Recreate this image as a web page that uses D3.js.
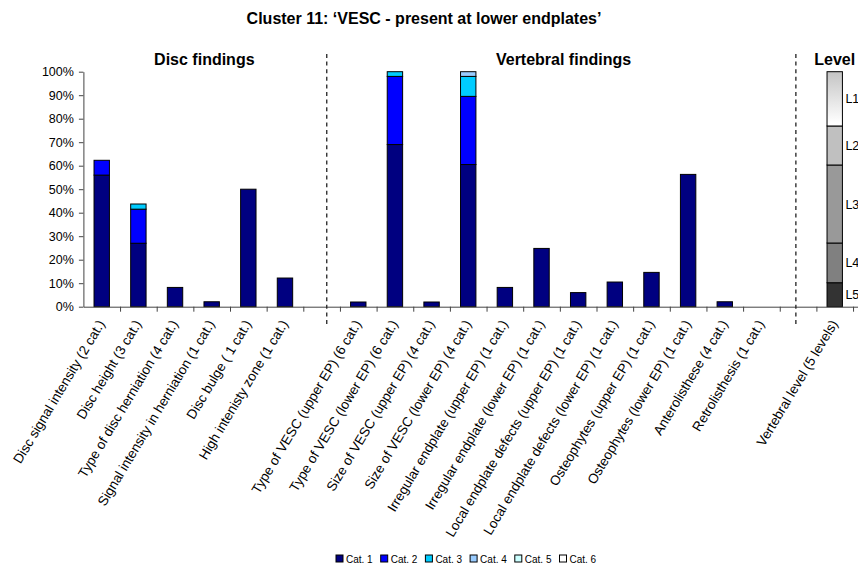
<!DOCTYPE html>
<html>
<head>
<meta charset="utf-8">
<script src="https://cdn.jsdelivr.net/npm/d3@7"></script>
<style>
  html, body { margin: 0; padding: 0; background: #fff; }
  svg { display: block; font-family: "Liberation Sans", Arial, sans-serif; }
</style>
</head>
<body>
<svg id="chart" width="858" height="564"></svg>
<script>
// ---------------- DATA ----------------
const chartTitle = "Cluster 11: \u2018VESC - present at lower endplates\u2019";
const sectionTitles = ["Disc findings", "Vertebral findings", "Level"];

const categories = [
  "Disc signal intensity (2 cat.)",
  "Disc height (3 cat.)",
  "Type of disc herniation (4 cat.)",
  "Signal intensity in herniation (1 cat.)",
  "Disc bulge ( 1 cat.)",
  "High intenisty zone (1 cat.)",
  "",
  "Type of VESC (upper EP) (6 cat.)",
  "Type of VESC (lower EP) (6 cat.)",
  "Size of VESC (upper EP) (4 cat.)",
  "Size of VESC (lower EP) (4 cat.)",
  "Irregular endplate (upper EP) (1 cat.)",
  "Irregular endplate (lower EP) (1 cat.)",
  "Local endplate defects (upper EP) (1 cat.)",
  "Local endplate defects (lower EP) (1 cat.)",
  "Osteophytes (upper EP) (1 cat.)",
  "Osteophytes (lower EP) (1 cat.)",
  "Anterolisthese (4 cat.)",
  "Retrolisthesis (1 cat.)",
  "",
  "Vertebral level (5 levels)",
  ""
];

const seriesNames = ["Cat. 1", "Cat. 2", "Cat. 3", "Cat. 4", "Cat. 5", "Cat. 6"];
const cat1 = [56, 27, 8.2, 2.1, 50, 12.2, 0, 2, 69, 2, 60.5, 8.2, 24.8, 6, 10.5, 14.6, 56.3, 2.1, 0, 0, 0, 0];
const cat2 = [6.3, 14.5, 0, 0, 0, 0, 0, 0, 29, 0, 29, 0, 0, 0, 0, 0, 0, 0, 0, 0, 0, 0];
const cat3 = [0, 2.2, 0, 0, 0, 0, 0, 0, 2, 0, 8.5, 0, 0, 0, 0, 0, 0, 0, 0, 0, 0, 0];
const cat4 = [0, 0, 0, 0, 0, 0, 0, 0, 0, 0, 2, 0, 0, 0, 0, 0, 0, 0, 0, 0, 0, 0];
const cat5 = [0, 0, 0, 0, 0, 0, 0, 0, 0, 0, 0, 0, 0, 0, 0, 0, 0, 0, 0, 0, 0, 0];
const cat6 = [0, 0, 0, 0, 0, 0, 0, 0, 0, 0, 0, 0, 0, 0, 0, 0, 0, 0, 0, 0, 0, 0];

const levelNames = ["L5", "L4", "L3", "L2", "L1"];
const levelValues = [10.2, 16.9, 33.2, 16.6, 23.1];
const levelCategoryIndex = 20;

const yTicks = [0, 10, 20, 30, 40, 50, 60, 70, 80, 90, 100];

// ---------------- LAYOUT ----------------
const seriesColors = ["#000080", "#0000FF", "#00CCFF", "#99CCFF", "#CCFFFF", "#FFFFFF"];
const levelColors = ["#333333", "#808080", "#999999", "#C0C0C0", "url(#l1grad)"];

const svg = d3.select("#chart");
const step = 36.65;
const x0 = 83.4;
const n = categories.length;

const x = d3.scaleBand().domain(d3.range(n)).range([x0, x0 + n * step]).padding(0);
const xb = d3.scaleLinear().domain([0, n]).range([x0, x0 + n * step]);
const y = d3.scaleLinear().domain([0, 100]).range([306.7, 71.7]);
const barW = step * 0.42;

const defs = svg.append("defs");
const grad = defs.append("linearGradient").attr("id", "l1grad")
  .attr("x1", 0).attr("y1", 0).attr("x2", 0).attr("y2", 1);
grad.append("stop").attr("offset", "0%").attr("stop-color", "#C4C4C4");
grad.append("stop").attr("offset", "95%").attr("stop-color", "#FFFFFF");

// title
svg.append("text")
  .attr("x", 424).attr("y", 24)
  .attr("text-anchor", "middle")
  .attr("font-weight", "bold").attr("font-size", 16)
  .text(chartTitle);

// section titles
const sectionPos = [3.3, 13.1, 20.5];
svg.selectAll("text.section").data(sectionTitles).join("text")
  .attr("class", "section")
  .attr("x", (d, i) => xb(sectionPos[i]))
  .attr("y", 65)
  .attr("text-anchor", "middle")
  .attr("font-weight", "bold").attr("font-size", 16)
  .text(d => d);

// stacked bars
const table = categories.map((c, i) => ({
  idx: i, c1: cat1[i], c2: cat2[i], c3: cat3[i], c4: cat4[i], c5: cat5[i], c6: cat6[i]
}));
const keys = ["c1", "c2", "c3", "c4", "c5", "c6"];
const stack = d3.stack().keys(keys)(table);

const gBars = svg.append("g");
stack.forEach((layer, li) => {
  gBars.selectAll(null).data(layer.filter(d => d[1] - d[0] > 0)).join("rect")
    .attr("x", d => x(d.data.idx) + (step - barW) / 2)
    .attr("width", barW)
    .attr("y", d => y(d[1]))
    .attr("height", d => y(d[0]) - y(d[1]))
    .attr("fill", seriesColors[li])
    .attr("stroke", "#000")
    .attr("stroke-width", 1);
});

// level bar
const levelTable = [Object.fromEntries(levelNames.map((k, i) => [k, levelValues[i]]))];
const levelStack = d3.stack().keys(levelNames)(levelTable);
const gLevel = svg.append("g");
levelStack.forEach((layer, li) => {
  const d = layer[0];
  gLevel.append("rect")
    .attr("x", x(levelCategoryIndex) + (step - barW) / 2)
    .attr("width", barW)
    .attr("y", y(d[1]))
    .attr("height", y(d[0]) - y(d[1]))
    .attr("fill", levelColors[li])
    .attr("stroke", "#000").attr("stroke-width", 1);
  gLevel.append("text")
    .attr("x", x(levelCategoryIndex) + (step + barW) / 2 + 3)
    .attr("y", (y(d[0]) + y(d[1])) / 2)
    .attr("dy", "0.36em")
    .attr("font-size", 12.5)
    .text(levelNames[li]);
});

// y axis
const yAxis = svg.append("g").attr("transform", `translate(${x0},0)`)
  .call(d3.axisLeft(y).tickValues(yTicks).tickFormat(d => d + "%").tickSize(4.5).tickPadding(5).tickSizeOuter(0));
yAxis.selectAll("text").attr("font-size", 12.5).attr("fill", "#000").attr("font-family", "Liberation Sans, Arial, sans-serif");
yAxis.selectAll("line, path").attr("stroke", "#444");

// x axis
const xAxis = svg.append("g").attr("transform", `translate(0,${y(0)})`)
  .call(d3.axisBottom(xb).tickValues(d3.range(1, n + 1)).tickFormat("").tickSize(5).tickSizeOuter(0));
xAxis.selectAll("line, path").attr("stroke", "#444");

// x labels
svg.selectAll("text.xlab").data(table.filter(d => categories[d.idx] !== "")).join("text")
  .attr("class", "xlab")
  .attr("text-anchor", "end")
  .attr("font-size", 13.5)
  .attr("transform", d => `translate(${x(d.idx) + step / 2 + 3.5},${y(0) + 17}) rotate(-59)`)
  .text(d => categories[d.idx]);

// separators
const separatorPos = [6.64, 19.44];
svg.selectAll("line.sep").data(separatorPos).join("line")
  .attr("class", "sep")
  .attr("x1", d => xb(d)).attr("x2", d => xb(d))
  .attr("y1", 54).attr("y2", 327)
  .attr("stroke", "#222").attr("stroke-width", 1.3)
  .attr("stroke-dasharray", "4,3.6");

// legend
const legend = svg.append("g").attr("transform", "translate(336,555)");
seriesNames.forEach((s, i) => {
  const g = legend.append("g").attr("transform", `translate(${i * 44.7},0)`);
  g.append("rect").attr("x", 0).attr("y", 0).attr("width", 7).attr("height", 7)
    .attr("fill", seriesColors[i]).attr("stroke", "#000").attr("stroke-width", 1);
  g.append("text").attr("x", 10).attr("y", 7.5).attr("font-size", 10).text(s);
});
</script>
</body>
</html>
